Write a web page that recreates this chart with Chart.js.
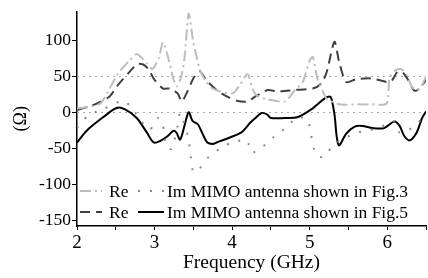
<!DOCTYPE html>
<html>
<head>
<meta charset="utf-8">
<script src="https://cdn.jsdelivr.net/npm/chart.js@4.4.1/dist/chart.umd.min.js"></script>
<style>
  html, body { margin: 0; padding: 0; background: #fff; }
  #wrap { width: 428px; height: 278px; }
</style>
</head>
<body>
<div id="wrap"><canvas id="chart" width="428" height="278"></canvas></div>
<script>
// values (frequency in GHz, impedance in ohm)
const reFig3Freq = [2.0, 2.17, 2.3, 2.4, 2.53, 2.66, 2.77, 2.82, 2.9, 2.97, 3.05, 3.11, 3.2, 3.24, 3.29, 3.35, 3.39, 3.44, 3.5, 3.55, 3.58, 3.65, 3.75, 4.0, 4.1, 4.2, 4.26, 4.33, 4.46, 4.68, 4.81, 4.91, 5.0, 5.04, 5.1, 5.17, 5.22, 5.38, 5.6, 5.8, 5.99, 6.03, 6.1, 6.18, 6.25, 6.32, 6.38, 6.45, 6.5];
const reFig3Val  = [5, 8, 12, 29, 54, 70, 81, 77, 68, 60, 74, 97, 66, 47, 36, 52, 79, 137, 97, 74, 60, 45, 33, 26, 38, 53, 33, 22, 18, 15, 31, 42, 72, 77, 47, 29, 19, 11, 11, 11, 12, 47, 58, 60, 52, 35, 30, 38, 50];

const imFig3Freq = [2.0, 2.14, 2.35, 2.6, 2.72, 2.83, 2.94, 3.04, 3.1, 3.15, 3.22, 3.3, 3.33, 3.43, 3.47, 3.5, 3.58, 3.7, 3.85, 4.0, 4.19, 4.25, 4.38, 4.53, 4.69, 4.84, 4.97, 5.01, 5.08, 5.18, 5.31, 5.47, 5.62, 5.77, 5.93, 6.08, 6.16, 6.35, 6.45, 6.5];
const imFig3Val  = [-22, -5, 5, 16, 4, -13, -24, -8, -14, -47, -51, -18, -1, -33, -64, -83, -78, -62, -50, -42, -39, -56, -49, -35, -22, -7, -10, -27, -59, -62, -45, -35, -28, -25, -20, -12, -28, -20, -8, -3];

const reFig5Freq = [2.0, 2.23, 2.42, 2.53, 2.66, 2.78, 2.86, 2.92, 3.0, 3.11, 3.2, 3.3, 3.35, 3.42, 3.5, 3.58, 3.67, 3.8, 3.93, 4.06, 4.2, 4.3, 4.46, 4.58, 4.81, 5.04, 5.15, 5.22, 5.32, 5.38, 5.47, 5.6, 5.8, 6.0, 6.06, 6.13, 6.2, 6.27, 6.35, 6.42, 6.5];
const reFig5Val  = [3, 11, 22, 38, 54, 67, 66, 60, 45, 33, 33, 26, 15, 28, 47, 57, 44, 31, 22, 16, 15, 22, 31, 29, 31, 33, 40, 56, 98, 70, 42, 46, 47, 42, 44, 56, 55, 45, 30, 33, 45];

const imFig5Freq = [2.0, 2.14, 2.36, 2.51, 2.62, 2.77, 2.9, 2.99, 3.07, 3.17, 3.24, 3.28, 3.33, 3.39, 3.44, 3.49, 3.56, 3.62, 3.68, 3.75, 3.8, 3.97, 4.12, 4.23, 4.3, 4.38, 4.45, 4.5, 4.68, 4.84, 5.02, 5.19, 5.26, 5.28, 5.32, 5.35, 5.38, 5.47, 5.58, 5.68, 5.81, 5.96, 6.09, 6.16, 6.22, 6.29, 6.38, 6.45, 6.5];
const imFig5Val  = [-42, -24, -5, 6, 4, -8, -28, -42, -40, -33, -26, -28, -38, -17, 0, -12, -17, -30, -42, -44, -42, -35, -28, -15, -8, -1, -3, -8, -8, -7, 4, 19, 22, 19, -3, -35, -46, -30, -20, -19, -22, -22, -13, -19, -33, -39, -28, -8, 1];

const legendLabels = ['Re', 'Im MIMO antenna shown in Fig.3', 'Re', 'Im MIMO antenna shown in Fig.5'];
const refLines = [0, 50];

const serif = '"Liberation Serif", "DejaVu Serif", serif';

function pts(xs, ys) {
    return xs.map((x, i) => ({x: x, y: ys[i]}));
}

// dotted reference lines at 0 and 50
const refLinePlugin = {
    id: 'refLines',
    beforeDatasetsDraw(chart) {
        const ctx = chart.ctx, area = chart.chartArea, y = chart.scales.y;
        ctx.save();
        ctx.strokeStyle = '#aaa';
        ctx.lineWidth = 1;
        ctx.setLineDash([2, 4]);
        refLines.forEach(v => {
            const py = Math.round(y.getPixelForValue(v)) + 0.5;
            ctx.beginPath();
            ctx.moveTo(area.left, py);
            ctx.lineTo(area.right, py);
            ctx.stroke();
        });
        ctx.restore();
    }
};

// two-row legend inside the plot, lower left
const legendPlugin = {
    id: 'innerLegend',
    afterDatasetsDraw(chart) {
        const ctx = chart.ctx;
        const rows = [191, 212];
        const cols = [{x0: 80, x1: 102, tx: 109}, {x0: 138, x1: 164, tx: 167}];
        ctx.save();
        ctx.font = '17.5px ' + serif;
        ctx.textBaseline = 'middle';
        ctx.fillStyle = '#000';
        chart.data.datasets.forEach((ds, i) => {
            const r = rows[Math.floor(i / 2)], c = cols[i % 2];
            ctx.strokeStyle = ds.borderColor;
            ctx.lineWidth = ds.borderWidth;
            ctx.setLineDash(ds.borderDash || []);
            ctx.beginPath();
            ctx.moveTo(c.x0, r);
            ctx.lineTo(c.x1, r);
            ctx.stroke();
            ctx.setLineDash([]);
            ctx.fillText(legendLabels[i], c.tx, r + 1);
        });
        ctx.restore();
    }
};

const data = {
    datasets: [
        {data: pts(reFig3Freq, reFig3Val), borderColor: '#bdbdbd', borderWidth: 2, borderDash: [11, 4, 2, 4], tension: 0.25},
        {data: pts(imFig3Freq, imFig3Val), borderColor: '#8a8a8a', borderWidth: 2, borderDash: [2, 10], tension: 0.25},
        {data: pts(reFig5Freq, reFig5Val), borderColor: '#404040', borderWidth: 2, borderDash: [10, 6], tension: 0.25},
        {data: pts(imFig5Freq, imFig5Val), borderColor: '#000', borderWidth: 2, tension: 0.3}
    ]
};

const config = {
    type: 'line',
    data: data,
    options: {
        responsive: false,
        animation: false,
        events: [],
        elements: {point: {radius: 0}},
        layout: {padding: {top: 9, right: 0, left: 0, bottom: 0}},
        plugins: {legend: {display: false}, tooltip: {enabled: false}},
        scales: {
            x: {
                type: 'linear',
                min: 2, max: 6.5,
                afterFit: s => { s.height = 52; },
                border: {color: '#000', width: 1.5},
                grid: {drawOnChartArea: false, tickLength: 4, tickColor: '#000'},
                ticks: {
                    stepSize: 0.5, includeBounds: false, padding: 2, color: '#000',
                    font: {family: serif, size: 19},
                    maxRotation: 0,
                    callback: v => Number.isInteger(v) ? v : ''
                },
                title: {display: true, text: 'Frequency (GHz)', color: '#000', font: {family: serif, size: 19.5}, padding: {top: 0, bottom: 3}}
            },
            y: {
                min: -158, max: 140,
                afterFit: s => { s.width = 77; },
                border: {color: '#000', width: 1.5},
                grid: {drawOnChartArea: false, tickLength: 5, tickColor: '#000'},
                ticks: {
                    stepSize: 25, includeBounds: false, padding: 1, color: '#000',
                    font: {family: serif, size: 17.5},
                    callback: v => v % 50 === 0 ? v : ''
                },
                title: {display: true, text: '(Ω)', color: '#000', font: {family: serif, size: 18}, padding: {top: 10, bottom: 0}}
            }
        }
    },
    plugins: [refLinePlugin, legendPlugin]
};

let ch = document.getElementById('chart').getContext('2d');
new Chart(ch, config);
</script>
</body>
</html>
